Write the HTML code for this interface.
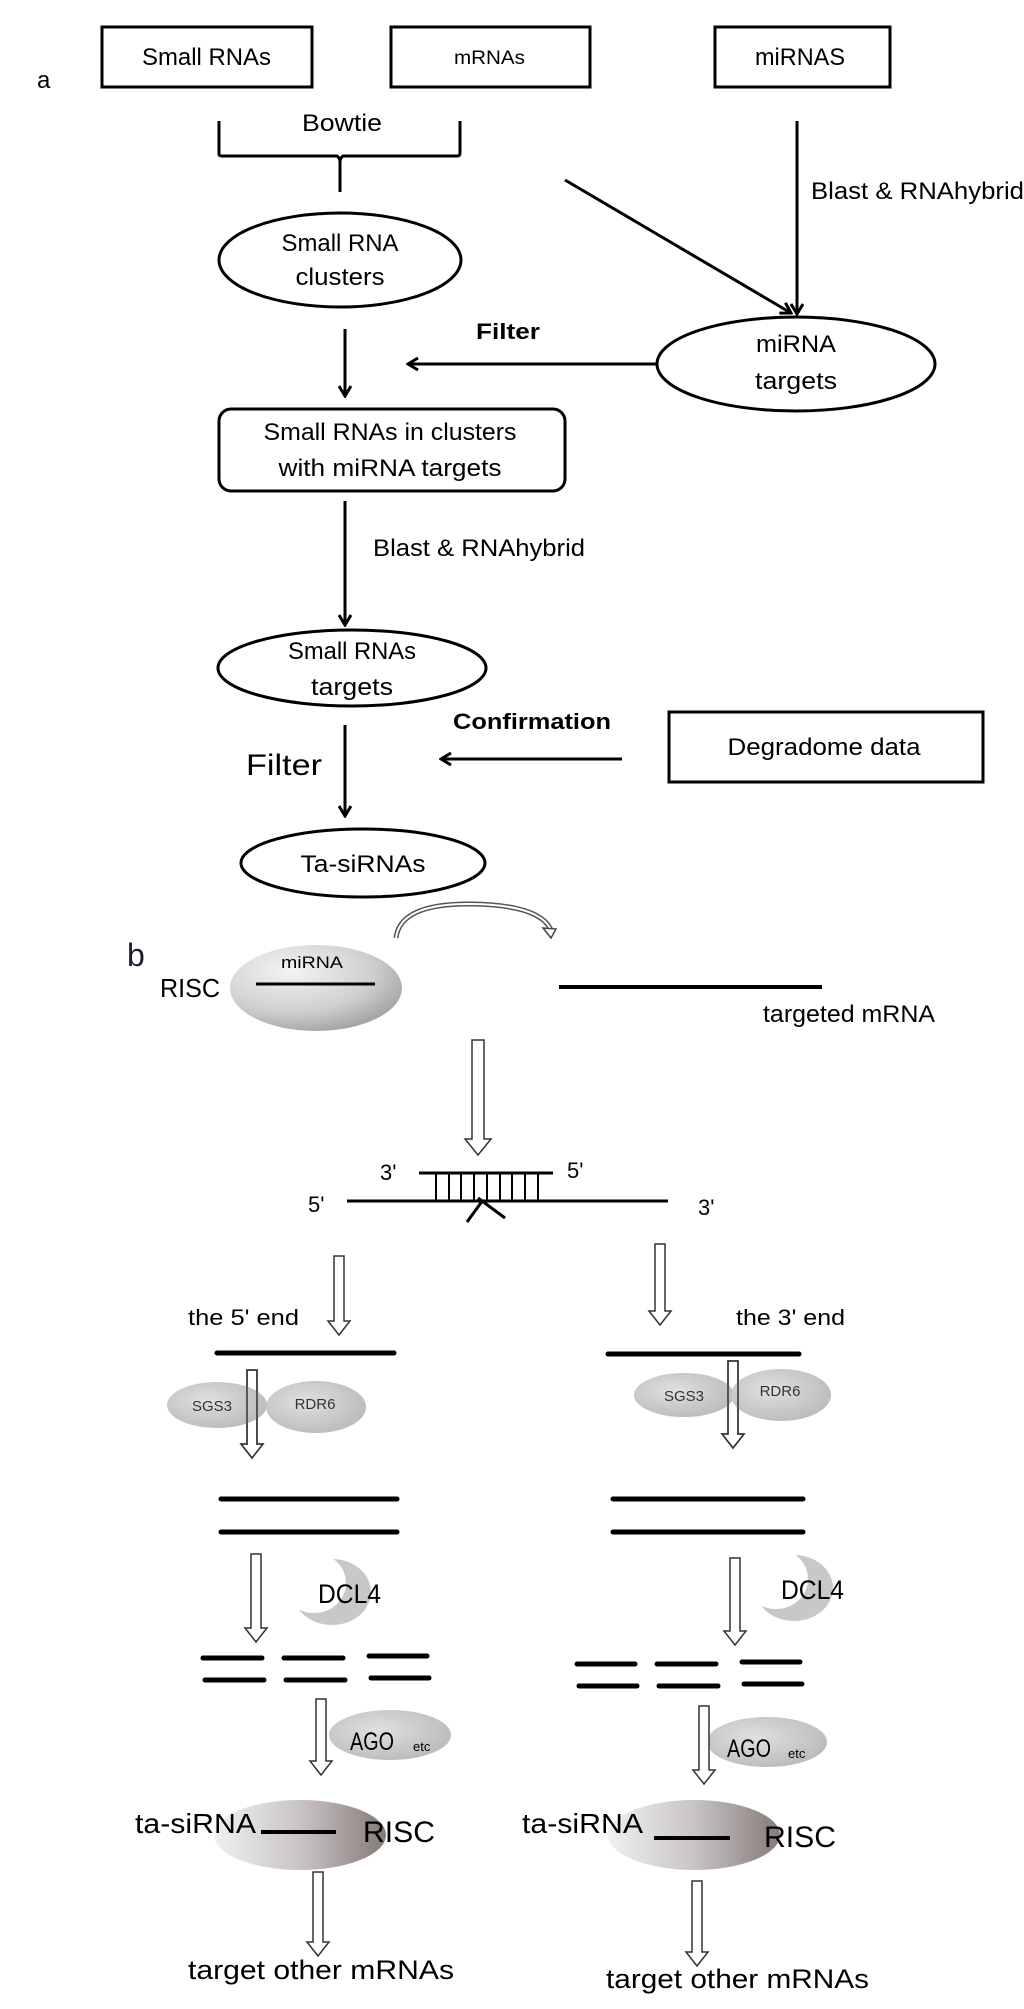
<!DOCTYPE html>
<html><head><meta charset="utf-8"><style>html,body{margin:0;padding:0;background:#fff}svg{display:block}</style></head>
<body>
<svg width="1024" height="2009" viewBox="0 0 1024 2009" xmlns="http://www.w3.org/2000/svg">
<defs>
<radialGradient id="g1" cx="0.35" cy="0.3" r="0.8"><stop offset="0" stop-color="#f4f4f4"/><stop offset="0.6" stop-color="#cfcfcf"/><stop offset="1" stop-color="#9a9a9a"/></radialGradient>
<linearGradient id="g2" x1="0" x2="1" y1="0" y2="0"><stop offset="0" stop-color="#f0f0f0"/><stop offset="0.5" stop-color="#c9c4c4"/><stop offset="1" stop-color="#867a7a"/></linearGradient>
<radialGradient id="g3" cx="0.4" cy="0.4" r="0.7"><stop offset="0" stop-color="#e0e0e0"/><stop offset="1" stop-color="#b8b8b8"/></radialGradient>
<marker id="ah" markerWidth="14" markerHeight="14" refX="12" refY="7" orient="auto" markerUnits="userSpaceOnUse"><path d="M2,1 L12,7 L2,13" fill="none" stroke="#000" stroke-width="3"/></marker>
</defs>
<g font-family="Liberation Sans, sans-serif" fill="#000">
<!-- part a -->
<text x="37" y="88" font-size="24">a</text>
<rect x="102" y="27" width="210" height="60" fill="none" stroke="#000" stroke-width="3"/>
<text x="142" y="65" font-size="24" textLength="129" lengthAdjust="spacingAndGlyphs">Small RNAs</text>
<rect x="391" y="27" width="199" height="60" fill="none" stroke="#000" stroke-width="3"/>
<text x="454" y="64" font-size="19" textLength="71" lengthAdjust="spacingAndGlyphs">mRNAs</text>
<rect x="715" y="27" width="175" height="60" fill="none" stroke="#000" stroke-width="3"/>
<text x="755" y="65" font-size="24" textLength="90" lengthAdjust="spacingAndGlyphs">miRNAS</text>
<text x="302" y="131" font-size="24" textLength="80" lengthAdjust="spacingAndGlyphs">Bowtie</text>
<path d="M219,121 V154 Q219,156 222,156 H337 Q340,158 340,162 V192 M340,162 Q340,158 343,156 H457 Q460,156 460,153 V121" fill="none" stroke="#000" stroke-width="3"/>
<ellipse cx="340" cy="260" rx="121" ry="47" fill="none" stroke="#000" stroke-width="3"/>
<text x="340" y="251" font-size="24" text-anchor="middle" textLength="117" lengthAdjust="spacingAndGlyphs">Small RNA</text>
<text x="340" y="285" font-size="24" text-anchor="middle" textLength="89" lengthAdjust="spacingAndGlyphs">clusters</text>
<line x1="565" y1="180" x2="791" y2="313" stroke="#000" stroke-width="3" marker-end="url(#ah)"/>
<line x1="797" y1="121" x2="797" y2="314" stroke="#000" stroke-width="3" marker-end="url(#ah)"/>
<text x="811" y="199" font-size="24" textLength="213" lengthAdjust="spacingAndGlyphs">Blast &amp; RNAhybrid</text>
<ellipse cx="796" cy="364" rx="139" ry="47" fill="none" stroke="#000" stroke-width="3"/>
<text x="796" y="352" font-size="24" text-anchor="middle" textLength="80" lengthAdjust="spacingAndGlyphs">miRNA</text>
<text x="796" y="389" font-size="24" text-anchor="middle" textLength="82" lengthAdjust="spacingAndGlyphs">targets</text>
<text x="476" y="339" font-size="22" font-weight="bold" textLength="64" lengthAdjust="spacingAndGlyphs">Filter</text>
<line x1="657" y1="364" x2="408" y2="364" stroke="#000" stroke-width="3" marker-end="url(#ah)"/>
<line x1="345" y1="329" x2="345" y2="396" stroke="#000" stroke-width="3" marker-end="url(#ah)"/>
<rect x="219" y="409" width="346" height="82" rx="12" fill="none" stroke="#000" stroke-width="3"/>
<text x="390" y="440" font-size="24" text-anchor="middle" textLength="253" lengthAdjust="spacingAndGlyphs">Small RNAs in clusters</text>
<text x="390" y="476" font-size="24" text-anchor="middle" textLength="223" lengthAdjust="spacingAndGlyphs">with miRNA targets</text>
<line x1="345" y1="501" x2="345" y2="625" stroke="#000" stroke-width="3" marker-end="url(#ah)"/>
<text x="373" y="556" font-size="24" textLength="212" lengthAdjust="spacingAndGlyphs">Blast &amp; RNAhybrid</text>
<ellipse cx="352" cy="668" rx="134" ry="38" fill="none" stroke="#000" stroke-width="3"/>
<text x="352" y="659" font-size="24" text-anchor="middle" textLength="128" lengthAdjust="spacingAndGlyphs">Small RNAs</text>
<text x="352" y="695" font-size="24" text-anchor="middle" textLength="82" lengthAdjust="spacingAndGlyphs">targets</text>
<text x="453" y="729" font-size="22" font-weight="bold" textLength="158" lengthAdjust="spacingAndGlyphs">Confirmation</text>
<rect x="669" y="712" width="314" height="70" fill="none" stroke="#000" stroke-width="3"/>
<text x="824" y="755" font-size="24" text-anchor="middle" textLength="193" lengthAdjust="spacingAndGlyphs">Degradome data</text>
<line x1="622" y1="759" x2="441" y2="759" stroke="#000" stroke-width="3" marker-end="url(#ah)"/>
<text x="246" y="775" font-size="30" textLength="76" lengthAdjust="spacingAndGlyphs">Filter</text>
<line x1="345" y1="725" x2="345" y2="816" stroke="#000" stroke-width="3" marker-end="url(#ah)"/>
<ellipse cx="363" cy="863" rx="122" ry="34" fill="none" stroke="#000" stroke-width="3"/>
<text x="363" y="872" font-size="24" text-anchor="middle" textLength="125" lengthAdjust="spacingAndGlyphs">Ta-siRNAs</text>
<!-- part b -->
<path d="M396,938 Q400,903 472,904 Q540,905 551,930" fill="none" stroke="#555" stroke-width="5"/>
<path d="M396,938 Q400,903 472,904 Q540,905 551,930" fill="none" stroke="#fff" stroke-width="2"/>
<path d="M543,928 L556,929 L551,938 Z" fill="#fff" stroke="#444" stroke-width="1.5"/>
<text x="127" y="966" font-size="32" fill="#1a1a33">b</text>
<text x="160" y="997" font-size="26" textLength="60" lengthAdjust="spacingAndGlyphs">RISC</text>
<ellipse cx="316" cy="988" rx="86" ry="43" fill="url(#g1)"/>
<text x="281" y="968" font-size="17" textLength="62" lengthAdjust="spacingAndGlyphs">miRNA</text>
<line x1="256" y1="984" x2="375" y2="984" stroke="#000" stroke-width="3"/>
<line x1="559" y1="987" x2="822" y2="987" stroke="#000" stroke-width="4"/>
<text x="763" y="1022" font-size="24" textLength="172" lengthAdjust="spacingAndGlyphs">targeted mRNA</text>
<g fill="#fff" stroke="#333" stroke-width="1.5">
<polygon points="472,1040 484,1040 484,1139 491,1139 478,1155 465,1139 472,1139"/>
<polygon points="334,1256 344,1256 344,1321 350,1321 339,1335 328,1321 334,1321"/>
<polygon points="655,1244 665,1244 665,1311 671,1311 660,1325 649,1311 655,1311"/>
<polygon points="247,1370 257,1370 257,1444 263,1444 252,1458 241,1444 247,1444"/>
<polygon points="728,1361 738,1361 738,1434 744,1434 733,1448 722,1434 728,1434"/>
</g>
<line x1="419" y1="1173" x2="553" y2="1173" stroke="#000" stroke-width="3"/>
<line x1="347" y1="1201" x2="668" y2="1201" stroke="#000" stroke-width="3"/>
<g stroke="#000" stroke-width="2">
<line x1="436" y1="1173" x2="436" y2="1201"/><line x1="449" y1="1173" x2="449" y2="1201"/><line x1="461" y1="1173" x2="461" y2="1201"/><line x1="474" y1="1173" x2="474" y2="1201"/><line x1="487" y1="1173" x2="487" y2="1201"/><line x1="500" y1="1173" x2="500" y2="1201"/><line x1="512" y1="1173" x2="512" y2="1201"/><line x1="525" y1="1173" x2="525" y2="1201"/><line x1="538" y1="1173" x2="538" y2="1201"/>
</g>
<path d="M467,1222 L483,1200 M478,1198 L505,1218" stroke="#000" stroke-width="3" fill="none"/>
<text x="380" y="1180" font-size="22">3'</text>
<text x="567" y="1178" font-size="22">5'</text>
<text x="308" y="1212" font-size="22">5'</text>
<text x="698" y="1215" font-size="22">3'</text>
<text x="188" y="1325" font-size="22" textLength="111" lengthAdjust="spacingAndGlyphs">the 5' end</text>
<text x="736" y="1325" font-size="22" textLength="109" lengthAdjust="spacingAndGlyphs">the 3' end</text>
<g stroke="#000" stroke-width="5" stroke-linecap="round">
<line x1="217" y1="1353" x2="394" y2="1353"/><line x1="608" y1="1354" x2="799" y2="1354"/>
<line x1="221" y1="1499" x2="397" y2="1499"/><line x1="613" y1="1499" x2="803" y2="1499"/>
<line x1="221" y1="1532" x2="397" y2="1532"/><line x1="613" y1="1532" x2="803" y2="1532"/>
<line x1="203" y1="1658" x2="262" y2="1658"/><line x1="284" y1="1658" x2="343" y2="1658"/><line x1="369" y1="1656" x2="427" y2="1656"/>
<line x1="205" y1="1680" x2="264" y2="1680"/><line x1="286" y1="1680" x2="345" y2="1680"/><line x1="371" y1="1678" x2="429" y2="1678"/>
<line x1="577" y1="1664" x2="635" y2="1664"/><line x1="657" y1="1664" x2="716" y2="1664"/><line x1="742" y1="1662" x2="800" y2="1662"/>
<line x1="579" y1="1686" x2="637" y2="1686"/><line x1="659" y1="1686" x2="718" y2="1686"/><line x1="744" y1="1684" x2="802" y2="1684"/>
</g>
<ellipse cx="217" cy="1405" rx="50" ry="23" fill="url(#g3)"/>
<ellipse cx="316" cy="1407" rx="50" ry="26" fill="url(#g3)"/>
<ellipse cx="684" cy="1395" rx="50" ry="22" fill="url(#g3)"/>
<ellipse cx="781" cy="1395" rx="50" ry="26" fill="url(#g3)"/>
<g fill="#fff" stroke="#333" stroke-width="1.5">
<polygon points="247,1370 257,1370 257,1444 263,1444 252,1458 241,1444 247,1444" fill="none"/>
<polygon points="728,1361 738,1361 738,1434 744,1434 733,1448 722,1434 728,1434" fill="none"/>
</g>
<text x="212" y="1411" font-size="15" text-anchor="middle" fill="#333">SGS3</text>
<text x="315" y="1409" font-size="15" text-anchor="middle" fill="#333">RDR6</text>
<text x="684" y="1401" font-size="15" text-anchor="middle" fill="#333">SGS3</text>
<text x="780" y="1396" font-size="15" text-anchor="middle" fill="#333">RDR6</text>
<ellipse cx="332" cy="1592" rx="39" ry="33" fill="#c8c8c8"/>
<ellipse cx="314" cy="1583" rx="32" ry="30" fill="#fff"/>
<ellipse cx="794" cy="1588" rx="39" ry="33" fill="#c8c8c8"/>
<ellipse cx="776" cy="1579" rx="32" ry="30" fill="#fff"/>
<text x="318" y="1603" font-size="27" textLength="63" lengthAdjust="spacingAndGlyphs">DCL4</text>
<text x="781" y="1599" font-size="27" textLength="63" lengthAdjust="spacingAndGlyphs">DCL4</text>
<ellipse cx="390" cy="1735" rx="61" ry="25" fill="url(#g3)"/>
<ellipse cx="767" cy="1742" rx="60" ry="25" fill="url(#g3)"/>
<text x="350" y="1750" font-size="25" textLength="44" lengthAdjust="spacingAndGlyphs">AGO</text>
<text x="413" y="1751" font-size="13">etc</text>
<text x="727" y="1757" font-size="25" textLength="44" lengthAdjust="spacingAndGlyphs">AGO</text>
<text x="788" y="1758" font-size="13">etc</text>
<g fill="#fff" stroke="#333" stroke-width="1.5">
<polygon points="251,1554 261,1554 261,1628 267,1628 256,1642 245,1628 251,1628"/>
<polygon points="730,1558 740,1558 740,1631 746,1631 735,1645 724,1631 730,1631"/>
<polygon points="316,1699 326,1699 326,1761 332,1761 321,1775 310,1761 316,1761"/>
<polygon points="699,1706 709,1706 709,1770 715,1770 704,1784 693,1770 699,1770"/>
<polygon points="313,1872 323,1872 323,1942 329,1942 318,1956 307,1942 313,1942"/>
<polygon points="692,1881 702,1881 702,1952 708,1952 697,1966 686,1952 692,1952"/>
</g>
<ellipse cx="300" cy="1835" rx="86" ry="35" fill="url(#g2)"/>
<ellipse cx="694" cy="1835" rx="86" ry="35" fill="url(#g2)"/>
<line x1="261" y1="1832" x2="336" y2="1832" stroke="#000" stroke-width="4"/>
<line x1="654" y1="1838" x2="730" y2="1838" stroke="#000" stroke-width="4"/>
<text x="135" y="1833" font-size="28" textLength="121" lengthAdjust="spacingAndGlyphs">ta-siRNA</text>
<text x="363" y="1842" font-size="30" textLength="72" lengthAdjust="spacingAndGlyphs">RISC</text>
<text x="522" y="1833" font-size="28" textLength="121" lengthAdjust="spacingAndGlyphs">ta-siRNA</text>
<text x="764" y="1847" font-size="30" textLength="72" lengthAdjust="spacingAndGlyphs">RISC</text>
<text x="188" y="1979" font-size="27" textLength="266" lengthAdjust="spacingAndGlyphs">target other mRNAs</text>
<text x="606" y="1988" font-size="27" textLength="263" lengthAdjust="spacingAndGlyphs">target other mRNAs</text>
</g>
</svg>
</body></html>
